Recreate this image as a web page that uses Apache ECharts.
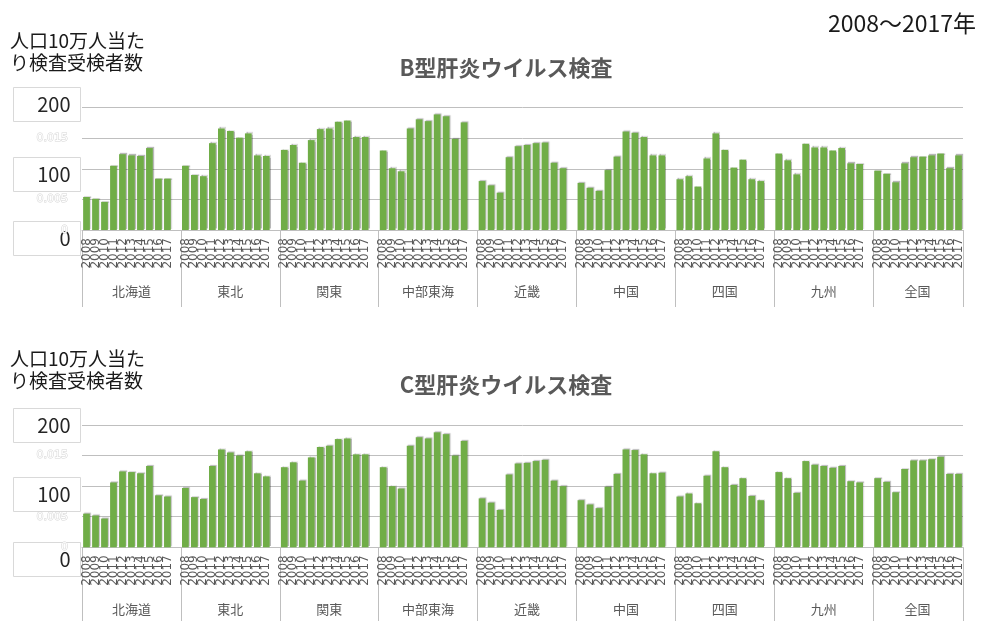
<!DOCTYPE html>
<html>
<head>
<meta charset="utf-8">
<script src="https://cdn.jsdelivr.net/npm/echarts@6/dist/echarts.min.js"></script>
<style>
  html, body { margin: 0; padding: 0; background: #fff; }
  #chart { width: 982px; height: 621px; }
</style>
</head>
<body>
<div id="chart"></div>
<script>
// 地域・年
const regions = ['北海道', '東北', '関東', '中部東海', '近畿', '中国', '四国', '九州', '全国'];
const years = ['2008', '2009', '2010', '2011', '2012', '2013', '2014', '2015', '2016', '2017'];

// B型肝炎ウイルス検査 人口10万人当たり受検者数（地域ごとに2008〜2017）
const hbvHokkaido = [54, 51, 46, 105, 124, 122, 121, 134, 84, 84];
const hbvTohoku   = [105, 90, 88, 142, 166, 162, 151, 158, 122, 121];
const hbvKanto    = [131, 139, 110, 147, 165, 166, 177, 179, 152, 152];
const hbvChubu    = [130, 101, 96, 166, 181, 178, 189, 186, 149, 176];
const hbvKinki    = [80, 73, 61, 119, 137, 139, 142, 143, 110, 101];
const hbvChugoku  = [77, 69, 64, 98, 120, 161, 159, 152, 122, 122];
const hbvShikoku  = [83, 88, 71, 117, 158, 131, 102, 115, 83, 80];
const hbvKyushu   = [125, 114, 91, 141, 135, 135, 130, 134, 109, 108];
const hbvZenkoku  = [97, 92, 78, 109, 119, 120, 122, 125, 101, 122];

// C型肝炎ウイルス検査
const hcvHokkaido = [55, 52, 47, 106, 124, 123, 121, 133, 85, 83];
const hcvTohoku   = [97, 82, 79, 133, 160, 155, 150, 157, 121, 116];
const hcvKanto    = [131, 139, 109, 147, 164, 166, 177, 178, 152, 152];
const hcvChubu    = [131, 100, 96, 166, 180, 178, 188, 185, 150, 174];
const hcvKinki    = [80, 73, 61, 119, 137, 138, 141, 143, 109, 100];
const hcvChugoku  = [77, 70, 64, 99, 120, 160, 159, 152, 121, 122];
const hcvShikoku  = [83, 88, 72, 117, 157, 131, 102, 113, 84, 77];
const hcvKyushu   = [123, 113, 89, 141, 135, 133, 130, 133, 108, 106];
const hcvZenkoku  = [113, 107, 90, 128, 142, 142, 144, 148, 120, 120];

// 目盛ラベル
const boxLabels = ['200', '100', '0'];
const faintTicks = { 150: '0.015', 50: '0.005' };

const hbvAll = [hbvHokkaido, hbvTohoku, hbvKanto, hbvChubu, hbvKinki, hbvChugoku, hbvShikoku, hbvKyushu, hbvZenkoku];
const hcvAll = [hcvHokkaido, hcvTohoku, hcvKanto, hcvChubu, hcvKinki, hcvChugoku, hcvShikoku, hcvKyushu, hcvZenkoku];

// 地域の間に空き枠を1つ入れる
const SLOT = 11;
let yearCats = [];
let regionCats = [];
regions.forEach((r, ri) => {
  years.forEach((y, yi) => {
    yearCats.push(y);
    if (yi === 5) {
      regionCats.push(ri === regions.length - 1 ? { value: r, textStyle: { padding: [0, 10, 0, 0] } } : r);
    } else {
      regionCats.push('');
    }
  });
  if (ri < regions.length - 1) {
    yearCats.push('');
    regionCats.push('');
  }
});

function flatten(all) {
  let out = [];
  all.forEach((vals, ri) => {
    vals.forEach(v => out.push(v));
    if (ri < all.length - 1) out.push('-');
  });
  return out;
}

const grayText = '#595959';
const lineGray = '#bfbfbf';
const cjk = '"Noto Sans CJK JP", "Noto Sans", sans-serif';

const gridTops = [107.7, 425];
const gridH = 122.3;

function makeXAxes(gi) {
  return [
    {
      type: 'category', gridIndex: gi, position: 'bottom', data: yearCats,
      axisLine: { show: true, lineStyle: { color: lineGray } },
      axisTick: { show: false },
      axisLabel: { interval: 0, rotate: 90, margin: 8, fontSize: 12, color: grayText, fontFamily: 'DejaVu Sans' }
    },
    {
      type: 'category', gridIndex: gi, position: 'bottom', offset: 0, data: regionCats,
      axisLine: { show: false },
      axisTick: { show: true, length: 77, interval: (i) => i % SLOT === 0, lineStyle: { color: lineGray } },
      axisLabel: { interval: (i) => i % SLOT === 5, margin: 55, fontSize: 13, color: grayText, fontFamily: cjk }
    }
  ];
}

function makeYAxis(gi) {
  return {
    type: 'value', gridIndex: gi, min: 0, max: 200, interval: 50,
    axisLine: { show: false }, axisTick: { show: false },
    splitLine: { lineStyle: { color: lineGray, width: 1 } },
    axisLabel: {
      margin: 14, fontSize: 11, fontFamily: 'DejaVu Sans',
      color: '#ffffff', textBorderColor: '#d4d4d4', textBorderWidth: 1,
      formatter: (v) => faintTicks[v] || (v === 0 ? '0' : '')
    }
  };
}

function makeSeries(all, gi) {
  return {
    type: 'bar', xAxisIndex: gi * 2, yAxisIndex: gi,
    data: flatten(all),
    barCategoryGap: '25%',
    itemStyle: {
      color: '#70ad47',
      shadowColor: 'rgba(0,0,0,0.28)', shadowBlur: 1, shadowOffsetX: 1, shadowOffsetY: -1
    },
    animation: false
  };
}

// 左側の白い目盛ボックス
function boxGraphics(boxTops) {
  let els = [];
  boxLabels.forEach((t, i) => {
    els.push({
      type: 'group', left: 13, top: boxTops[i], z: 100,
      children: [
        { type: 'rect', shape: { x: 0, y: 0, width: 67, height: 34 },
          style: { fill: '#ffffff', stroke: '#d9d9d9', lineWidth: 1 } },
        { type: 'text', x: 57, y: 17,
          style: { text: t, fill: '#262626', font: '20px ' + cjk, textAlign: 'right', textVerticalAlign: 'middle' } }
      ]
    });
  });
  return els;
}

function axisName(top) {
  return {
    type: 'text', left: 10, top: top, z: 100,
    style: { text: '人口10万人当た\nり検査受検者数', fill: '#1a1a1a', font: '19px ' + cjk, lineHeight: 22 }
  };
}

const chart = echarts.init(document.getElementById('chart'), null, { renderer: 'canvas' });
chart.setOption({
  animation: false,
  title: [
    { text: 'B型肝炎ウイルス検査', left: 501, top: 52, textAlign: 'center',
      textStyle: { fontSize: 22, fontWeight: 'bold', color: grayText, fontFamily: cjk } },
    { text: 'C型肝炎ウイルス検査', left: 501, top: 369, textAlign: 'center',
      textStyle: { fontSize: 22, fontWeight: 'bold', color: grayText, fontFamily: cjk } },
    { text: '2008～2017年', right: 1, top: 7,
      textStyle: { fontSize: 23, fontWeight: 'normal', color: '#1a1a1a', fontFamily: cjk } }
  ],
  grid: [
    { left: 82, right: 19, top: gridTops[0], height: gridH },
    { left: 82, right: 19, top: gridTops[1], height: gridH }
  ],
  xAxis: makeXAxes(0).concat(makeXAxes(1)),
  yAxis: [makeYAxis(0), makeYAxis(1)],
  series: [makeSeries(hbvAll, 0), makeSeries(hcvAll, 1)],
  graphic: [axisName(30), axisName(348)]
    .concat(boxGraphics([87, 157, 221]))
    .concat(boxGraphics([408, 477, 542]))
});
</script>
</body>
</html>
